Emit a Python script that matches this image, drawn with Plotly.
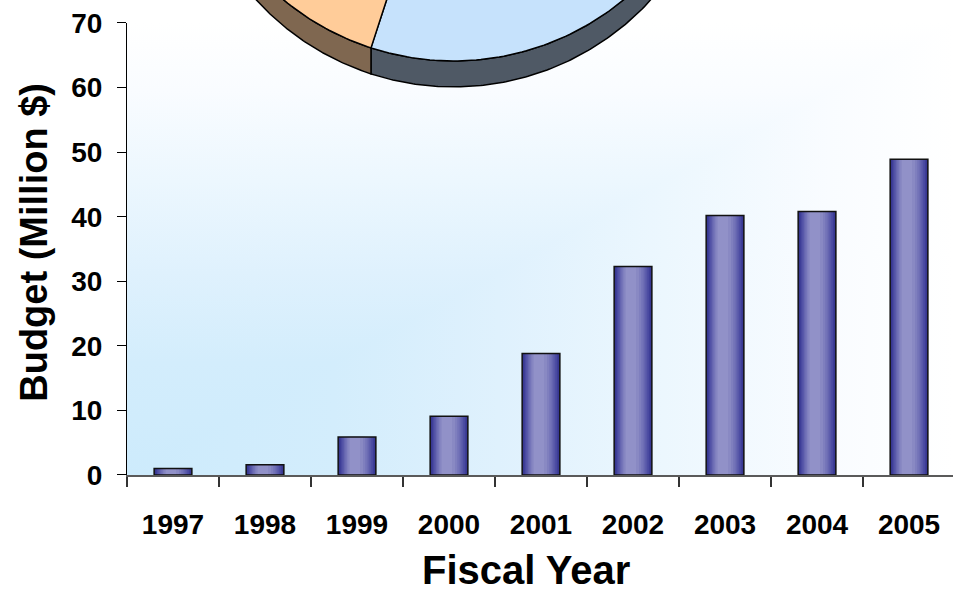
import base64
import numpy as np
import plotly.graph_objects as go

# Annual budget (million dollars) by fiscal year
years = ["1997", "1998", "1999", "2000", "2001", "2002", "2003", "2004", "2005"]
budget = [1.0, 1.6, 5.9, 9.1, 18.8, 32.3, 40.2, 40.8, 48.9]

# Pie slice shares (clockwise from 12 o'clock)
pie_shares = [55, 45]
pie_top_colors = ["#C6E2FC", "#FFCC99"]
pie_side_colors = ["#4F5965", "#7F6750"]

y_ticks = [0, 10, 20, 30, 40, 50, 60, 70]

W, H = 953, 591
ML, MB = 127, 115.5
PLOT_H = H - MB           # height of the paper area (top margin is 0)
AXIS_TOP = 23             # pixel row of the 70 tick
y_dom_top = (PLOT_H - AXIS_TOP) / PLOT_H

FONT = "Liberation Sans, Arial, sans-serif"

fig = go.Figure()

# Bars: nested overlaid bars give a horizontal cylinder-like shading
BAR_W = 0.41
shade_layers = [
    (0.00, 1.00, "#2F2F88"),
    (0.03, 0.97, "#3C3C96"),
    (0.07, 0.93, "#4949A0"),
    (0.11, 0.88, "#5757A8"),
    (0.15, 0.83, "#6565B0"),
    (0.19, 0.78, "#7373B8"),
    (0.23, 0.72, "#7F7FBE"),
    (0.27, 0.66, "#8989C3"),
    (0.31, 0.58, "#9191C8"),
]
for s0, s1, col in shade_layers:
    fig.add_trace(go.Bar(
        x=years, y=budget, xaxis="x", yaxis="y",
        offset=-BAR_W / 2 + s0 * BAR_W, width=(s1 - s0) * BAR_W,
        marker=dict(color=col, line=dict(width=0)),
        hoverinfo="skip", showlegend=False,
    ))
fig.add_trace(go.Bar(
    x=years, y=budget, xaxis="x", yaxis="y",
    offset=-BAR_W / 2, width=BAR_W,
    marker=dict(color="rgba(0,0,0,0)", line=dict(color="#111111", width=1.5)),
    hovertemplate="%{x}: %{y}<extra></extra>", showlegend=False,
))

# 3-D pie drawn in pixel space on its own axes
cx, cy, R, depth = 453.5, -206.0, 267.0, 26.0


def arc(a0, a1, n=200):
    t = np.radians(np.linspace(a0, a1, n))
    return cx + R * np.sin(t), cy - R * np.cos(t)


bounds = np.concatenate([[0], np.cumsum(pie_shares)]) / sum(pie_shares) * 360.0
for i in range(len(pie_shares)):
    a0, a1 = bounds[i], bounds[i + 1]
    # visible side wall (front half of the disc)
    f0, f1 = max(a0, 90.0), min(a1, 270.0)
    if f1 > f0:
        ax, ay = arc(f0, f1)
        sx = np.concatenate([ax, ax[::-1], ax[:1]])
        sy = np.concatenate([ay, ay[::-1] + depth, ay[:1]])
        fig.add_trace(go.Scatter(
            x=sx, y=sy, xaxis="x2", yaxis="y2", mode="lines", fill="toself",
            fillcolor=pie_side_colors[i], line=dict(color="black", width=1.5),
            hoverinfo="skip", showlegend=False,
        ))
for i in range(len(pie_shares)):
    a0, a1 = bounds[i], bounds[i + 1]
    ax, ay = arc(a0, a1)
    fig.add_trace(go.Scatter(
        x=np.concatenate([[cx], ax, [cx]]), y=np.concatenate([[cy], ay, [cy]]),
        xaxis="x2", yaxis="y2", mode="lines", fill="toself",
        fillcolor=pie_top_colors[i], line=dict(color="black", width=1.5),
        hoverinfo="skip", showlegend=False,
    ))

# Plot-area background: light blue in the lower-left corner fading to white
stops = [(0.0, "#CDEBFC"), (0.25, "#D3EDFC"), (0.45, "#DFF1FD"),
         (0.65, "#ECF7FE"), (0.85, "#F9FCFF"), (1.0, "#FFFFFF")]
stop_xml = "".join(f'<stop offset="{o}" stop-color="{c}"/>' for o, c in stops)
bw, bh = W - ML, PLOT_H - AXIS_TOP
svg = (
    f'<svg xmlns="http://www.w3.org/2000/svg" width="{bw}" height="{bh}" '
    f'viewBox="0 0 {bw} {bh}" preserveAspectRatio="none"><defs>'
    f'<linearGradient id="h" x1="0" y1="0" x2="1" y2="0">{stop_xml}</linearGradient>'
    f'<linearGradient id="v" x1="0" y1="1" x2="0" y2="0">{stop_xml}</linearGradient>'
    f'</defs><rect width="{bw}" height="{bh}" fill="url(#h)"/>'
    f'<rect width="{bw}" height="{bh}" fill="url(#v)" style="mix-blend-mode:lighten"/></svg>'
)
bg_uri = "data:image/svg+xml;base64," + base64.b64encode(svg.encode()).decode()

tick_font = dict(family=FONT, size=28, color="black", weight="bold")

fig.update_layout(
    width=W, height=H,
    margin=dict(l=ML, r=0, t=0, b=MB, pad=0, autoexpand=False),
    paper_bgcolor="white", plot_bgcolor="rgba(0,0,0,0)",
    barmode="overlay", showlegend=False,
    font=dict(family=FONT, color="black"),
    xaxis=dict(
        domain=[0, 1], anchor="y", type="category", range=[-0.5, 8.478],
        showline=True, linecolor="#5A5A5A", linewidth=2,
        ticks="outside", tickson="boundaries", ticklen=10, tickwidth=1.5,
        tickcolor="#333333", tickfont=tick_font, ticklabelstandoff=23,
        showgrid=False, zeroline=False, fixedrange=True, automargin=False,
    ),
    yaxis=dict(
        domain=[0, y_dom_top], anchor="x", range=[0, 70], tickvals=y_ticks,
        showline=True, linecolor="black", linewidth=1,
        ticks="outside", ticklen=9, tickwidth=1, tickcolor="black",
        tickfont=tick_font, ticklabelstandoff=9,
        showgrid=False, zeroline=False, fixedrange=True, automargin=False,
    ),
    xaxis2=dict(domain=[0, 1], anchor="y2", range=[ML, W], visible=False,
                fixedrange=True, automargin=False),
    yaxis2=dict(domain=[0, 1], anchor="x2", range=[PLOT_H, 0], visible=False,
                fixedrange=True, automargin=False),
    images=[dict(
        source=bg_uri, xref="paper", yref="paper", x=0, y=y_dom_top,
        sizex=1, sizey=y_dom_top, xanchor="left", yanchor="top",
        sizing="stretch", layer="below",
    )],
    annotations=[
        dict(text="Fiscal Year", xref="paper", yref="paper",
             x=(526 - ML) / (W - ML), y=(PLOT_H - 571) / PLOT_H,
             xanchor="center", yanchor="middle", showarrow=False,
             font=dict(family=FONT, size=40, color="black", weight="bold")),
        dict(text="Budget (Million $)", xref="paper", yref="paper",
             x=(34 - ML) / (W - ML), y=(PLOT_H - 243) / PLOT_H, textangle=-90,
             xanchor="center", yanchor="middle", showarrow=False,
             font=dict(family=FONT, size=38, color="black", weight="bold")),
    ],
)

fig.write_html("out.html")
